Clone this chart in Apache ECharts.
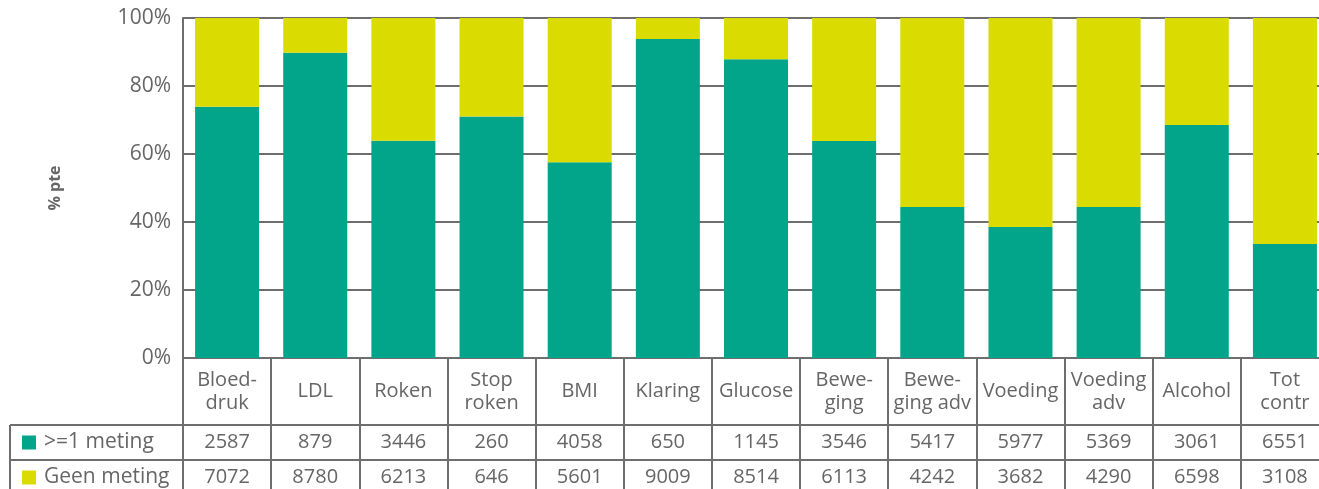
<!DOCTYPE html>
<html>
<head>
<meta charset="utf-8">
<script src="https://cdn.jsdelivr.net/npm/echarts@6/dist/echarts.min.js"></script>
<style>
html,body{margin:0;padding:0;background:#fff;}
#c{width:1319px;height:489px;}
</style>
</head>
<body>
<div id="c"></div>
<script>
var categories = ['Bloed-\ndruk','LDL','Roken','Stop\nroken','BMI','Klaring','Glucose','Bewe-\nging','Bewe-\nging adv','Voeding','Voeding\nadv','Alcohol','Tot\ncontr'];
var seriesNames = ['>=1 meting','Geen meting'];
var pctMeting = [73.9, 89.8, 63.9, 71.0, 57.6, 93.8, 87.9, 63.8, 44.4, 38.5, 44.4, 68.5, 33.5];
var pctGeen   = [26.1, 10.2, 36.1, 29.0, 42.4,  6.2, 12.1, 36.2, 55.6, 61.5, 55.6, 31.5, 66.5];
var rowMeting = [2587, 879, 3446, 260, 4058, 650, 1145, 3546, 5417, 5977, 5369, 3061, 6551];
var rowGeen   = [7072, 8780, 6213, 646, 5601, 9009, 8514, 6113, 4242, 3682, 4290, 6598, 3108];
var yTicks = [0, 20, 40, 60, 80, 100];

var GREEN = '#02A58A', YELLOW = '#DADB00', LINE = '#6e6e6e', TXT = '#666666';
var FONT = 'Open Sans';
var G = {left: 183, top: 18, right: -10, height: 340};
var catRowH = 67, rowH = 35, tableLeft = 10;

var chart = echarts.init(document.getElementById('c'), null, {renderer: 'canvas'});
chart.setOption({
  animation: false,
  backgroundColor: '#fff',
  grid: {left: G.left, top: G.top, right: G.right, height: G.height, containLabel: false, outerBoundsMode: 'none'},
  xAxis: {
    type: 'category',
    data: categories,
    axisLine: {show: true, lineStyle: {color: LINE, width: 2}},
    axisTick: {show: true, length: catRowH + 2 * rowH + 4, lineStyle: {color: LINE, width: 2}},
    axisLabel: {interval: 0, margin: catRowH / 2, verticalAlign: 'middle', color: TXT, fontSize: 20, lineHeight: 23, fontFamily: FONT}
  },
  yAxis: {
    type: 'value',
    min: yTicks[0], max: yTicks[yTicks.length - 1], interval: 20,
    name: '% pte', nameLocation: 'middle', nameRotate: 90, nameGap: 120,
    nameTextStyle: {color: TXT, fontSize: 16, fontWeight: 'bold', fontFamily: FONT},
    axisLine: {show: true, lineStyle: {color: LINE, width: 2}},
    axisTick: {show: false},
    splitLine: {show: true, lineStyle: {color: LINE, width: 2}},
    axisLabel: {formatter: '{value}%', margin: 12, color: TXT, fontSize: 21, fontFamily: FONT}
  },
  series: [
    {name: seriesNames[0], type: 'bar', stack: 'a', data: pctMeting, barWidth: 64, itemStyle: {color: GREEN}},
    {name: seriesNames[1], type: 'bar', stack: 'a', data: pctGeen, barWidth: 64, itemStyle: {color: YELLOW}}
  ]
});

var bottom = G.top + G.height;
var y1 = bottom + catRowH, y2 = y1 + rowH, y3 = y2 + rowH;
var els = [];
function hline(y){ els.push({type:'line', shape:{x1:tableLeft, y1:y, x2:1330, y2:y}, style:{stroke:LINE, lineWidth:2}, z:10}); }
hline(y1); hline(y2);
els.push({type:'line', shape:{x1:tableLeft, y1:y1, x2:tableLeft, y2:y3+4}, style:{stroke:LINE, lineWidth:2}, z:10});
var rows = [rowMeting, rowGeen], colors = [GREEN, YELLOW], tops = [y1, y2];
for (var r = 0; r < 2; r++) {
  var cy = tops[r] + rowH / 2;
  els.push({type:'rect', shape:{x:22, y:cy-7, width:14, height:14}, style:{fill:colors[r]}, z:10});
  els.push({type:'text', x:44, y:cy, style:{text:seriesNames[r], fill:TXT, font:'21px "Open Sans"', textVerticalAlign:'middle', textAlign:'left'}, z:10});
  for (var i = 0; i < categories.length; i++) {
    var cx = chart.convertToPixel({xAxisIndex:0}, i);
    els.push({type:'text', x:cx, y:cy, style:{text:String(rows[r][i]), fill:TXT, font:'20px "Open Sans"', textVerticalAlign:'middle', textAlign:'center'}, z:10});
  }
}
chart.setOption({graphic: {elements: els}});
</script>
</body>
</html>
